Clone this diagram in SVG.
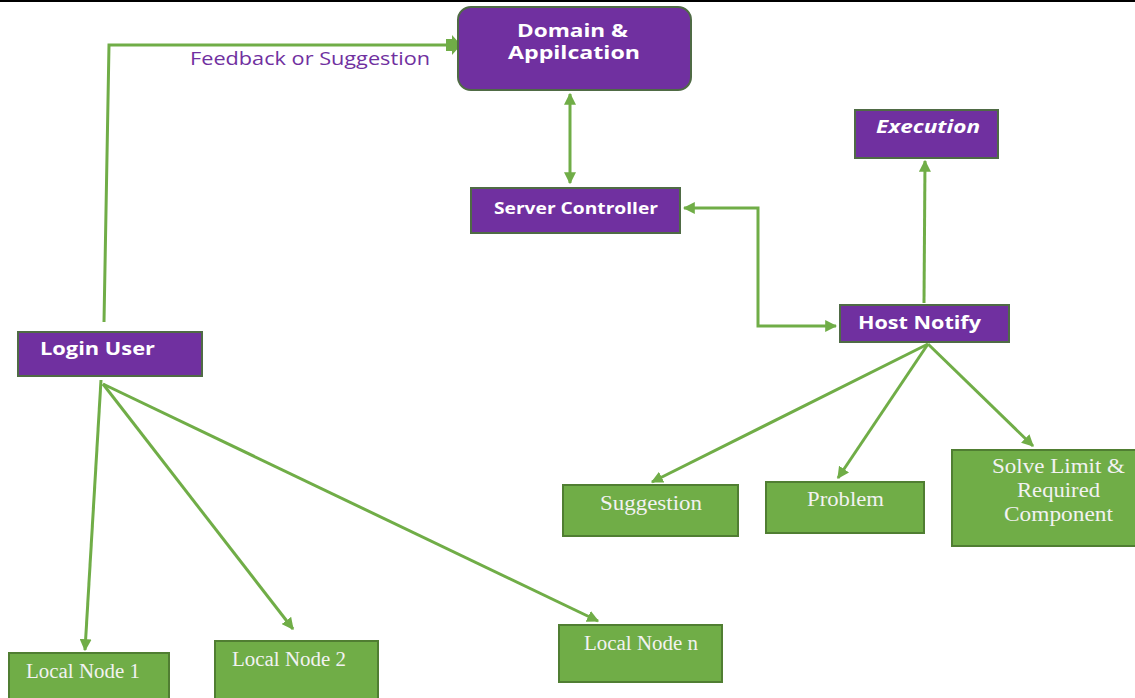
<svg xmlns="http://www.w3.org/2000/svg" width="1135" height="698" viewBox="0 0 1135 698">
<defs>
<marker id="ah" viewBox="0 0 10 10" refX="9" refY="5" markerWidth="4" markerHeight="4" orient="auto-start-reverse" markerUnits="strokeWidth">
<path d="M0,0 L10,5 L0,10 z" fill="#70AD47"/>
</marker>
<style>
.pbox{fill:#7030A0;stroke:#4F6B45;stroke-width:2}
.gbox{fill:#70AD47;stroke:#507E32;stroke-width:2}
.ptxt{fill:#FFFFFF;font-family:"Open Sans","Lato",sans-serif;font-weight:bold}
.gtxt{fill:#F2F2F2;font-family:"Liberation Serif",serif;font-size:20px}
.con{stroke:#70AD47;stroke-width:3;fill:none}
.arr{marker-end:url(#ah)}
.bi{marker-start:url(#ah);marker-end:url(#ah)}
</style>
</defs>
<rect x="0" y="0" width="1135" height="698" fill="#FFFFFF"/>
<line x1="0" y1="1" x2="1135" y2="1" stroke="#000000" stroke-width="2"/>

<g id="connectors">
<polyline class="con" points="104,322 109,45 448,45"/>
<path d="M446,39 L452,39 L452,35 L461,45 L452,55 L452,51 L446,51 z" fill="#70AD47"/>
<text x="190" y="65" font-family="'Open Sans','Lato',sans-serif" font-size="18" fill="#7030A0" textLength="240" lengthAdjust="spacingAndGlyphs">Feedback or Suggestion</text>
<line class="con bi" x1="570" y1="94" x2="570" y2="183"/>
<polyline class="con bi" points="684,208 758,208 758,326 836,326"/>
<line class="con arr" x1="924" y1="303" x2="925" y2="161"/>
<line class="con arr" x1="928" y1="344" x2="652" y2="482"/>
<line class="con arr" x1="928" y1="344" x2="838" y2="478"/>
<line class="con arr" x1="928" y1="344" x2="1033" y2="446"/>
<line class="con arr" x1="101" y1="380" x2="85" y2="650"/>
<line class="con arr" x1="103" y1="384" x2="293" y2="629"/>
<line class="con arr" x1="103" y1="384" x2="598" y2="621"/>
</g>

<g id="domain">
<rect class="pbox" x="458" y="7" width="233" height="83" rx="13"/>
<text class="ptxt" x="517" y="37" font-size="17" textLength="111" lengthAdjust="spacingAndGlyphs">Domain &amp;</text>
<text class="ptxt" x="508" y="59" font-size="17" textLength="132" lengthAdjust="spacingAndGlyphs">Appilcation</text>
</g>
<g id="server">
<rect class="pbox" x="471" y="188" width="209" height="45"/>
<text class="ptxt" x="494" y="214" font-size="16" textLength="164" lengthAdjust="spacingAndGlyphs">Server Controller</text>
</g>
<g id="execution">
<rect class="pbox" x="855" y="110" width="143" height="48"/>
<text class="ptxt" x="876" y="133" font-size="17" font-style="italic" textLength="104" lengthAdjust="spacingAndGlyphs">Execution</text>
</g>
<g id="host">
<rect class="pbox" x="840" y="305" width="169" height="37"/>
<text class="ptxt" x="858" y="329" font-size="18" textLength="123" lengthAdjust="spacingAndGlyphs">Host Notify</text>
</g>
<g id="login">
<rect class="pbox" x="18" y="332" width="184" height="44"/>
<text class="ptxt" x="40" y="355" font-size="17" textLength="115" lengthAdjust="spacingAndGlyphs">Login User</text>
</g>
<g id="suggestion">
<rect class="gbox" x="563" y="485" width="175" height="51"/>
<text class="gtxt" x="600" y="510" textLength="102" lengthAdjust="spacingAndGlyphs">Suggestion</text>
</g>
<g id="problem">
<rect class="gbox" x="766" y="482" width="158" height="51"/>
<text class="gtxt" x="807" y="506" textLength="77" lengthAdjust="spacingAndGlyphs">Problem</text>
</g>
<g id="solve">
<rect class="gbox" x="952" y="450" width="190" height="96"/>
<text class="gtxt" x="992" y="473" textLength="133" lengthAdjust="spacingAndGlyphs">Solve Limit &amp;</text>
<text class="gtxt" x="1017" y="497" textLength="83" lengthAdjust="spacingAndGlyphs">Required</text>
<text class="gtxt" x="1004" y="521" textLength="109" lengthAdjust="spacingAndGlyphs">Component</text>
</g>
<g id="local1">
<rect class="gbox" x="9" y="653" width="160" height="50"/>
<text class="gtxt" x="26" y="678" font-size="18" textLength="114" lengthAdjust="spacingAndGlyphs">Local Node 1</text>
</g>
<g id="local2">
<rect class="gbox" x="215" y="641" width="163" height="60"/>
<text class="gtxt" x="232" y="666" font-size="18" textLength="114" lengthAdjust="spacingAndGlyphs">Local Node 2</text>
</g>
<g id="localn">
<rect class="gbox" x="559" y="625" width="163" height="57"/>
<text class="gtxt" x="584" y="650" font-size="18" textLength="114" lengthAdjust="spacingAndGlyphs">Local Node n</text>
</g>
</svg>
